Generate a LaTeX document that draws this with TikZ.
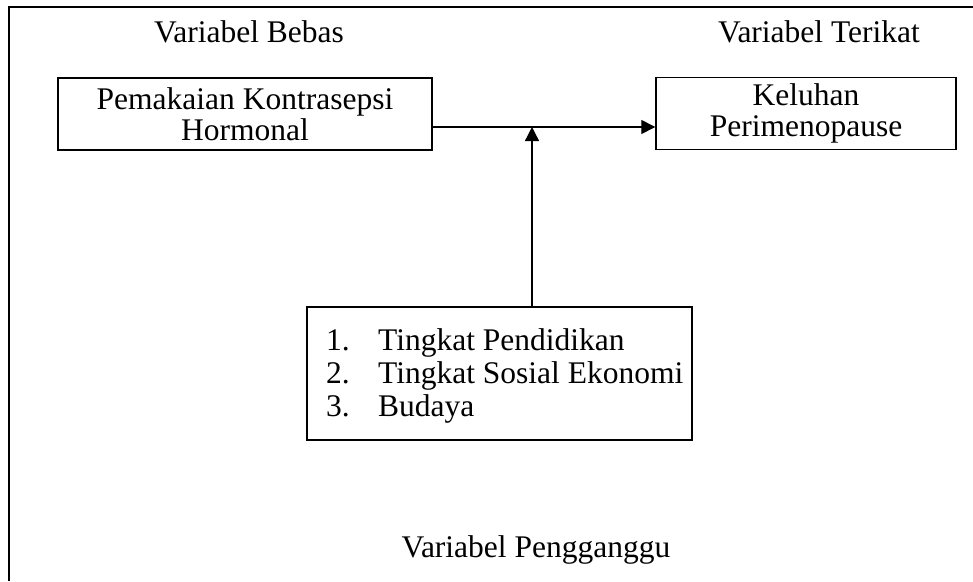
\documentclass[tikz,border=0pt]{standalone}
\usepackage{fontspec}
\setmainfont{Liberation Serif}
\usetikzlibrary{arrows.meta,calc}
\tikzset{
  box/.style={draw,line width=1.4pt,inner sep=0pt,align=center,font=\fontsize{31.5}{31}\selectfont},
  lbl/.style={inner sep=0pt,anchor=base,font=\fontsize{31.5}{36}\selectfont},
  conn/.style={line width=1.3pt,-{Triangle[length=14pt,width=14pt]}},
}
\begin{document}
\begin{tikzpicture}[x=1pt,y=-1pt]
\useasboundingbox (0,0) rectangle (973,581);
\fill[white] (0,0) rectangle (973,581);
\draw[line width=2pt] (8.5,581) -- (8.5,7) -- (973,7);
\node[lbl] (lb) at (249,42) {Variabel Bebas};
\node[lbl] (lt) at (819,42) {Variabel Terikat};
\node[lbl] (lp) at (536,557) {Variabel Pengganggu};
\node[box,minimum width=374pt,minimum height=72pt] (left) at (245,114) {Pemakaian Kontrasepsi\\Hormonal};
\node[box,minimum width=300pt,minimum height=72pt] (right) at (806,113.5) {Keluhan\\Perimenopause};
\node[box,minimum width=385pt,minimum height=133pt] (bot) at (499.5,373.5) {};
\node[inner sep=0pt,anchor=west,align=left,font=\fontsize{31.5}{33}\selectfont] (list) at (326,376)
  {\makebox[52pt][l]{1.}Tingkat Pendidikan\\\makebox[52pt][l]{2.}Tingkat Sosial Ekonomi\\\makebox[52pt][l]{3.}Budaya};
\coordinate (meet) at (532,127);
\draw[conn] (left.east |- meet) -- (right.west |- meet);
\draw[conn] (meet |- bot.north) -- (meet);
\end{tikzpicture}
\end{document}
